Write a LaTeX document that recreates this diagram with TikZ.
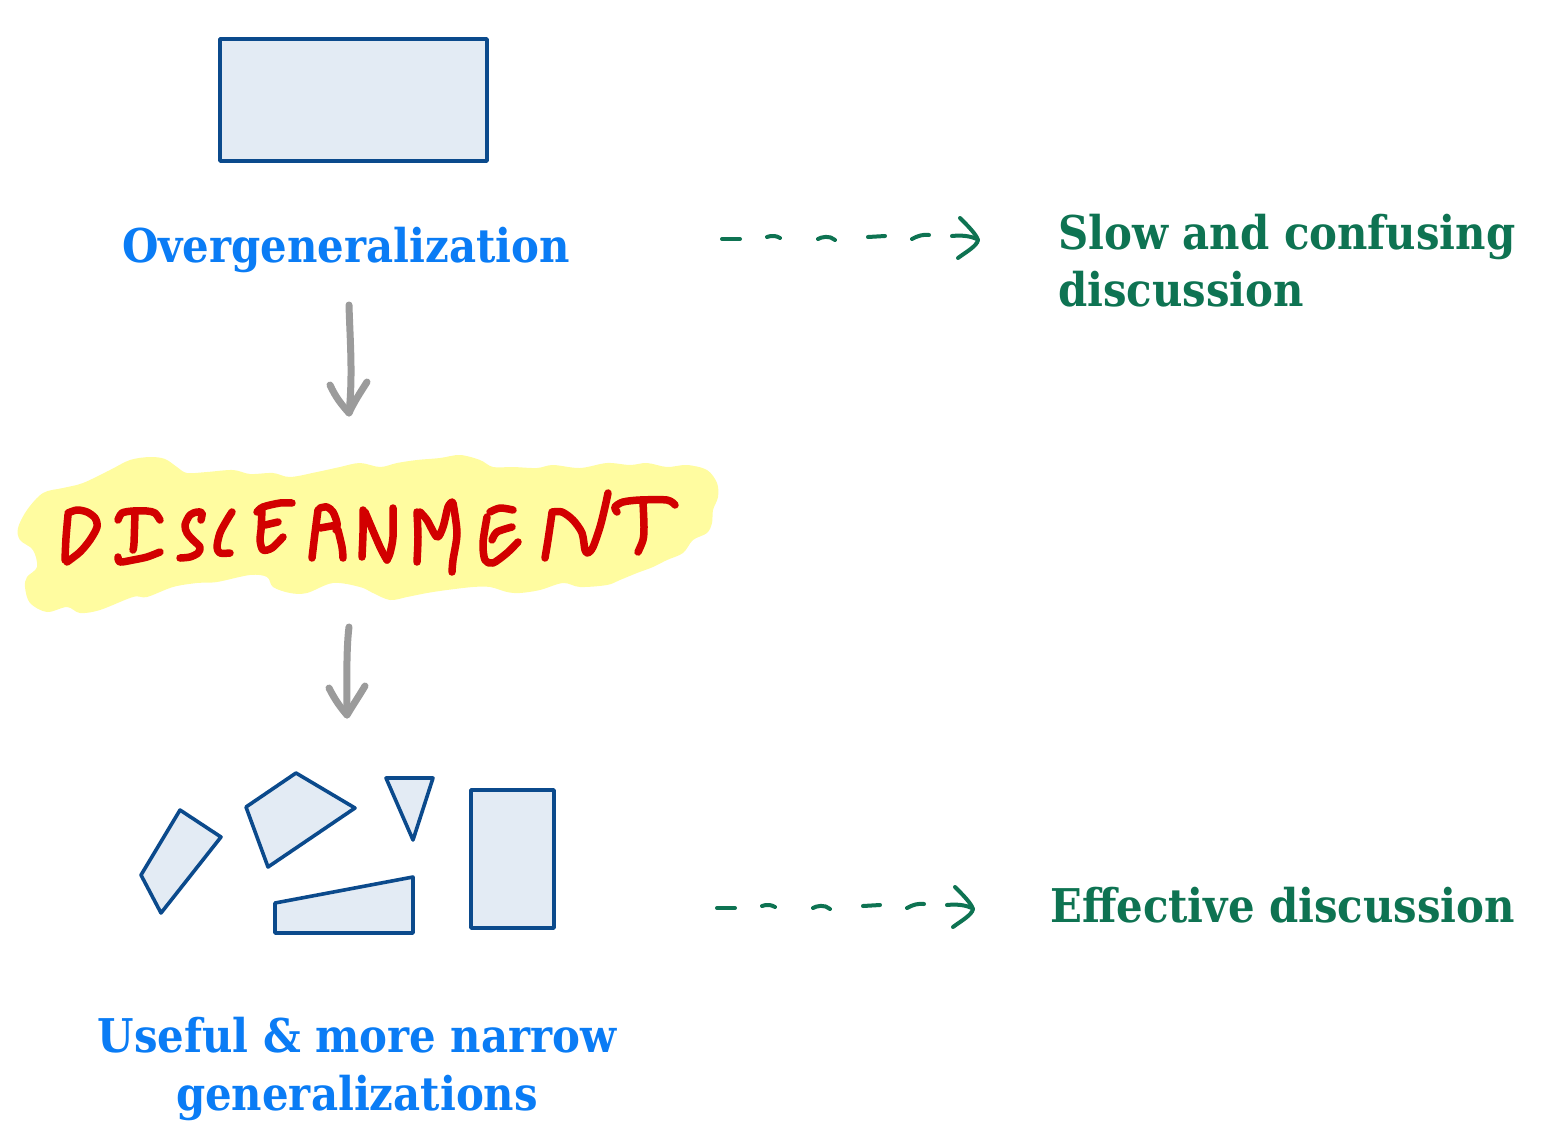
\documentclass[tikz,border=0pt]{standalone}
\usepackage{fontspec}
\setmainfont{DejaVu Serif Condensed}
\definecolor{txtblue}{HTML}{0A7CF5}
\definecolor{txtgreen}{HTML}{0E7352}
\definecolor{shapefill}{HTML}{E3EBF4}
\definecolor{shapeline}{HTML}{0B4A8C}
\definecolor{hlyellow}{HTML}{FFFCA0}
\definecolor{penred}{HTML}{D20000}
\definecolor{arrgray}{HTML}{9B9B9B}
\tikzset{
  shapebox/.style={fill=shapefill,draw=shapeline,line width=3.6pt,line join=round},
  bluetxt/.style={text=txtblue,font=\bfseries\fontsize{46.5}{58}\selectfont,inner sep=0pt},
  greentxt/.style={text=txtgreen,font=\bfseries\fontsize{46.5}{57}\selectfont,inner sep=0pt},
  grayarrow/.style={draw=arrgray,line width=7pt,line cap=round,line join=round},
  greendash/.style={draw=txtgreen,line width=4pt,line cap=round,line join=round},
  redpen/.style={draw=penred,line width=7.5pt,line cap=round,line join=round},
}
\begin{document}
\begin{tikzpicture}[x=1pt,y=-1pt]
\useasboundingbox (0,0) rectangle (1542,1146);
% top rectangle
\node[shapebox,minimum width=267pt,minimum height=122pt,inner sep=0pt] (big) at (353.5,100) {};
% small shapes
\path[shapebox] (180,810) -- (221,837) -- (161,913) -- (141,875) -- cycle;
\path[shapebox] (246,807) -- (296,773) -- (355,808) -- (268,867) -- cycle;
\path[shapebox] (386,778) -- (433,778) -- (413,840) -- cycle;
\path[shapebox] (275,903) -- (413,877) -- (413,933) -- (275,933) -- cycle;
\node[shapebox,minimum width=83pt,minimum height=138pt,inner sep=0pt] (rect2) at (512.5,859) {};
% texts
\node[bluetxt,anchor=base] (over) at (346,262) {Overgeneralization};
\node[greentxt,anchor=base west,align=left] (slow) at (1058,306) {Slow and confusing\\discussion};
\node[greentxt,anchor=base west] (eff) at (1050,922) {Effective discussion};
\node[bluetxt,anchor=base,align=center] (useful) at (357,1110) {Useful \& more narrow\\generalizations};
% highlight blob
\path[fill=hlyellow] plot[smooth cycle,tension=0.55] coordinates {
(18,528) (27,510) (43,493) (63,488) (83,483) (110,470) (130,460) (150,457) (165,459) (177,467) (187,473) (207,472) (233,470) (250,474) (273,473) (290,477) (317,472) (340,467) (360,463) (380,467) (397,463) (417,460) (440,458) (460,455) (480,460) (493,467) (513,467) (537,468) (553,465) (580,468) (607,463) (630,465) (647,463) (667,467) (687,465) (707,470) (717,483) (718,497) (713,510) (712,523) (707,533) (693,540) (683,553) (667,560) (653,567) (637,573) (620,580) (607,585) (580,587) (563,583) (540,590) (520,593) (507,592) (490,587) (473,587) (447,590) (427,593) (407,597) (390,600) (373,593) (360,587) (333,583) (307,593) (290,593) (273,587) (267,577) (250,575) (217,582) (197,583) (173,587) (147,597) (133,597) (100,610) (80,613) (67,607) (47,612) (30,603) (25,587) (27,577) (37,567) (33,550) (20,540)};
% DISCERNMENT handwriting
\begin{scope}[redpen]
% D
\draw plot[smooth] coordinates {(68,515) (66,538) (65,560)};
\draw plot[smooth] coordinates {(68,513) (77,510) (87,512) (95,518) (97,527) (90,540) (80,552) (67,562)};
% I
\draw plot[smooth] coordinates {(118,520) (122,513) (133,511) (147,511) (155,513) (160,520)};
\draw plot[smooth] coordinates {(135,512) (134,543) (133,550)};
\draw plot[smooth] coordinates {(118,557) (120,562) (133,560) (147,557) (160,552)};
% S
\draw plot[smooth] coordinates {(201,520) (202,513) (197,512) (190,515) (185,525) (187,533) (193,540) (200,547) (198,553) (190,557) (180,558)};
% C
\draw plot[smooth] coordinates {(232,512) (227,520) (220,533) (217,547) (220,553) (230,553)};
% E
\draw plot[smooth] coordinates {(257,512) (263,507) (280,503) (292,503)};
\draw plot[smooth] coordinates {(262,510) (261,530) (260,540) (263,550) (272,548) (283,537)};
\draw plot[smooth] coordinates {(265,525) (278,522)};
% A
\draw plot[smooth] coordinates {(312,558) (315,533) (318,510)};
\draw plot[smooth] coordinates {(320,508) (327,507) (333,512) (337,523) (336,530)};
\draw plot[smooth] coordinates {(338,530) (342,547) (343,558)};
\draw plot[smooth] coordinates {(320,528) (337,525)};
% N
\draw plot[smooth] coordinates {(363,510) (363,533) (362,557)};
\draw plot[smooth] coordinates {(365,512) (380,547) (387,560)};
\draw plot[smooth] coordinates {(393,508) (393,537) (390,553) (387,560)};
% M
\draw plot[smooth] coordinates {(417,512) (418,537) (417,562)};
\draw plot[smooth] coordinates {(420,512) (427,520) (437,537) (443,527) (448,507) (452,502)};
\draw plot[smooth] coordinates {(453,503) (457,533) (453,560) (452,572)};
% E
\draw plot[smooth] coordinates {(490,512) (500,508) (513,510)};
\draw plot[smooth] coordinates {(487,517) (483,543) (485,560) (493,563) (507,553) (518,542)};
\draw plot[smooth] coordinates {(492,540) (497,532) (512,527)};
% N
\draw plot[smooth] coordinates {(552,513) (548,540) (545,558)};
\draw plot[smooth] coordinates {(552,512) (562,512) (573,520) (582,533) (585,550) (588,553) (593,547) (600,527) (605,507) (608,493)};
% T
\draw plot[smooth] coordinates {(617,512) (615,507) (623,502) (640,500) (667,500) (675,505)};
\draw plot[smooth] coordinates {(643,502) (644,527) (643,540) (638,552)};
\end{scope}
% gray arrows
\coordinate (a1s) at (349,305);
\coordinate (a1e) at (349,413);
\draw[grayarrow] (a1s) .. controls (350,340) and (353,375) .. (a1e);
\draw[grayarrow] (330,385) .. controls (336,398) and (342,405) .. (a1e) .. controls (354,402) and (360,393) .. (367,382);
\coordinate (a2s) at (349,627);
\coordinate (a2e) at (347,715);
\draw[grayarrow] (a2s) .. controls (346,650) and (347,690) .. (a2e);
\draw[grayarrow] (329,688) .. controls (335,700) and (341,708) .. (a2e) .. controls (353,705) and (359,696) .. (365,686);
% green dashed arrows
\foreach \dx/\dy [count=\i] in {0/0,-5/669}{
\begin{scope}[shift={(\dx,\dy)},greendash]
\draw (722,239) -- (740,239);
\draw (767,237) .. controls (772,235) and (777,236) .. (780,238);
\draw (818,239) .. controls (821,237) and (830,235) .. (835,240);
\draw (868,237) -- (885,236);
\draw (912,239) .. controls (917,236) and (924,234) .. (929,235);
\draw (952,236) .. controls (962,235) and (970,236) .. (977,239);
\draw (960,218) .. controls (968,226) and (976,234) .. (978,240) .. controls (977,246) and (966,252) .. (958,258);
\end{scope}}
\end{tikzpicture}
\end{document}
